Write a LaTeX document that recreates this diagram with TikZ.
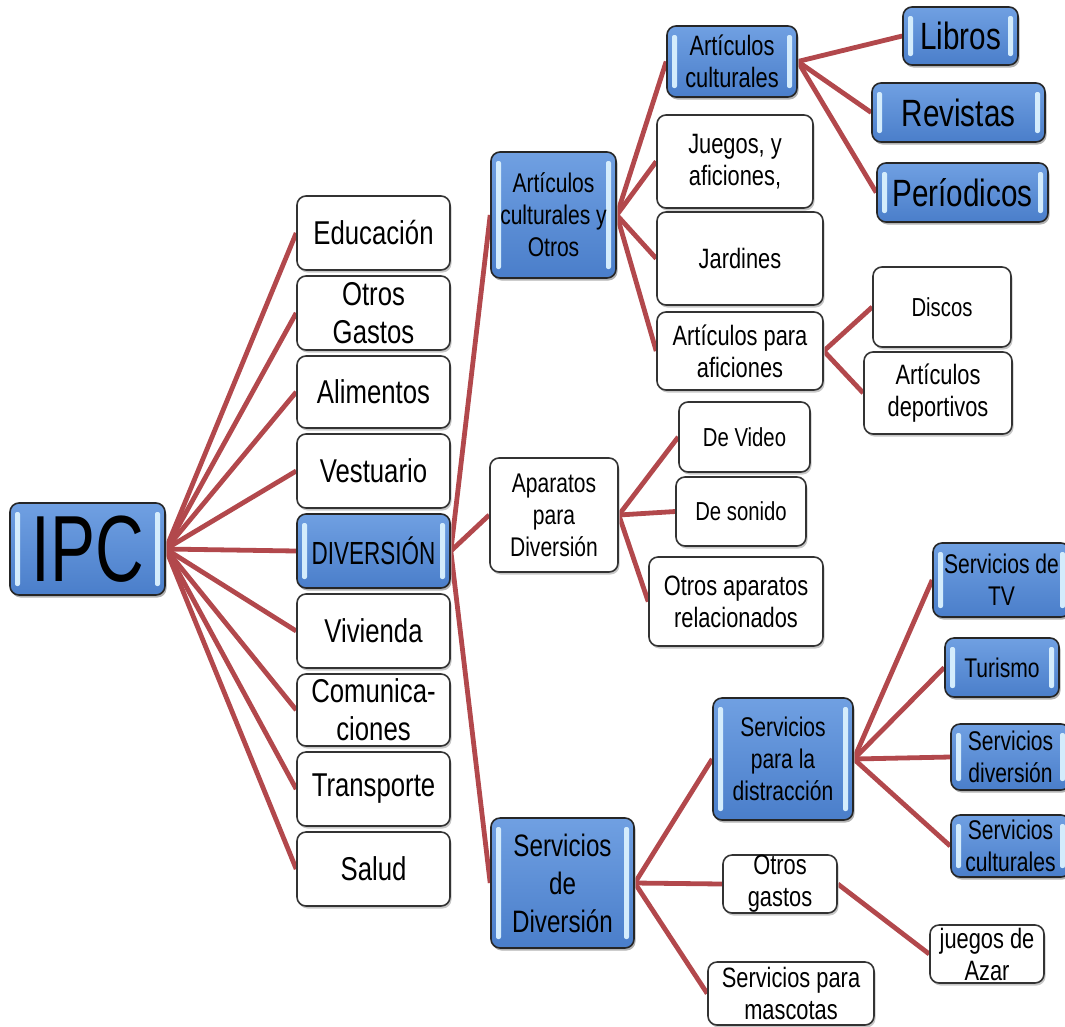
\documentclass[tikz,border=0pt]{standalone}
\usepackage{fontspec}
\setmainfont[FakeStretch=0.78]{Liberation Sans}
\newcommand\fsz[2]{\fontsize{#1}{#2}\selectfont}
\definecolor{link}{RGB}{178,72,76}
\definecolor{btop}{RGB}{112,160,226}
\definecolor{bbot}{RGB}{74,126,202}
\definecolor{hl}{RGB}{212,236,252}
\pgfdeclarelayer{background}
\pgfsetlayers{background,main}
\tikzset{
  box/.style={rectangle, rounded corners=9pt, inner sep=0pt, align=center, line width=1.6pt},
  wbox/.style={box, draw=black!80, fill=white,
    preaction={fill=black!22, transform canvas={shift={(1.5pt,-2.5pt)}}}},
  bbox/.style={box, draw=black!85, top color=btop, bottom color=bbot,
    preaction={fill=black!30, transform canvas={shift={(1.5pt,-2.5pt)}}},
    path picture={
      \fill[hl, rounded corners=2pt] ([xshift=5pt,yshift=-9pt]path picture bounding box.north west) rectangle ([xshift=10pt,yshift=9pt]path picture bounding box.south west);
      \fill[hl, rounded corners=2pt] ([xshift=-10pt,yshift=-9pt]path picture bounding box.north east) rectangle ([xshift=-5pt,yshift=9pt]path picture bounding box.south east);
    }},
  link/.style={draw=link, line width=4.8pt},
  fa/.style={font=\fsz{33}{38}},
  fb/.style={font=\fsz{27}{32}},
  fc/.style={font=\fsz{28}{32}},
  fe/.style={font=\fsz{26}{30}},
  fd/.style={font=\fsz{38}{44}},
}
\begin{document}
\begin{tikzpicture}[x=1pt,y=-1pt]
\useasboundingbox (0,0) rectangle (1065,1026);
\clip (0,0) rectangle (1065,1026);
% root
\node[bbox, minimum width=155pt, minimum height=92pt, font=\fsz{94}{100}] (ipc) at (87.5,549) {\scalebox{0.92}[1]{IPC}};
% column 1
\node[wbox, fa, minimum width=153pt, minimum height=74pt] (edu) at (373.5,233) {Educación};
\node[wbox, fa, minimum width=153pt, minimum height=74pt] (otg) at (373.5,313) {Otros\\Gastos};
\node[wbox, fa, minimum width=153pt, minimum height=72pt] (ali) at (373.5,392) {Alimentos};
\node[wbox, fa, minimum width=153pt, minimum height=74pt] (ves) at (373.5,471) {Vestuario};
\node[bbox, font=\fsz{32}{36}, minimum width=153pt, minimum height=74pt] (div) at (373.5,551) {\scalebox{0.9}[1]{DIVERSIÓN}};
\node[wbox, fa, minimum width=153pt, minimum height=74pt] (viv) at (373.5,631) {Vivienda};
\node[wbox, fa, minimum width=153pt, minimum height=72pt] (com) at (373.5,710) {Comunica-\\ciones};
\node[wbox, fa, minimum width=153pt, minimum height=74pt] (tra) at (373.5,789) {Transporte};
\node[wbox, fa, minimum width=153pt, minimum height=74pt] (sal) at (373.5,869) {Salud};
% column 2
\node[bbox, fb, minimum width=125pt, minimum height=126pt] (acyo) at (553.5,215) {Artículos\\culturales y\\Otros};
\node[wbox, fb, minimum width=128pt, minimum height=114pt] (apa) at (554,515) {Aparatos\\para\\Diversión};
\node[bbox, font=\fsz{31}{38}, minimum width=143pt, minimum height=130pt] (sdiv) at (562.5,883) {Servicios\\de\\Diversión};
% column 3 top
\node[bbox, fc, minimum width=130pt, minimum height=71pt] (acu) at (732,61.5) {Artículos\\culturales};
\node[wbox, fc, minimum width=156pt, minimum height=93pt] (jue) at (735,161.5) {Juegos, y\\aficiones,};
\node[wbox, fc, minimum width=166pt, minimum height=93pt] (jar) at (740,258.5) {Jardines};
\node[wbox, fc, minimum width=166pt, minimum height=78pt] (apaf) at (740,351) {Artículos para\\aficiones};
% column 4 top
\node[bbox, fd, minimum width=115pt, minimum height=58pt] (lib) at (960.5,36) {Libros};
\node[bbox, fd, minimum width=173pt, minimum height=59pt] (rev) at (958.5,112.5) {Revistas};
\node[bbox, fd, minimum width=171pt, minimum height=59pt] (per) at (962.5,192.5) {Períodicos};
\node[wbox, fe, minimum width=138pt, minimum height=80pt] (dis) at (942,307) {Discos};
\node[wbox, fc, minimum width=148pt, minimum height=82pt] (adep) at (938,393) {Artículos\\deportivos};
% aparatos children
\node[wbox, fe, minimum width=131pt, minimum height=70pt] (vid) at (744.5,437) {De Video};
\node[wbox, fe, minimum width=130pt, minimum height=69pt] (son) at (741,511.5) {De sonido};
\node[wbox, fc, minimum width=174pt, minimum height=89pt] (oap) at (736,601.5) {Otros aparatos\\relacionados};
% servicios children
\node[bbox, fb, minimum width=140pt, minimum height=122pt] (sdis) at (783,759) {Servicios\\para la\\distracción};
\node[wbox, fc, minimum width=114pt, minimum height=58pt] (ogas) at (780,884) {Otros\\gastos};
\node[wbox, fc, minimum width=166pt, minimum height=63pt] (masc) at (791,993.5) {Servicios para\\mascotas};
\node[wbox, fc, minimum width=114pt, minimum height=58pt] (azar) at (987,954) {juegos de\\Azar};
\node[bbox, fb, minimum width=137pt, minimum height=74pt] (stv) at (1001.5,580) {Servicios de\\TV};
\node[bbox, fb, minimum width=114pt, minimum height=59pt] (tur) at (1002,667.5) {Turismo};
\node[bbox, fb, minimum width=119pt, minimum height=66pt] (sdv) at (1010.5,757) {Servicios\\diversión};
\node[bbox, fb, minimum width=119pt, minimum height=62pt] (scu) at (1010.5,846) {Servicios\\culturales};
% connectors
\begin{pgfonlayer}{background}
\foreach \n in {edu,otg,ali,ves,div,viv,com,tra,sal}
  \draw[link] (ipc.east) -- (\n.west);
\foreach \n in {acyo,apa,sdiv}
  \draw[link] (div.east) -- (\n.west);
\foreach \n in {acu,jue,jar,apaf}
  \draw[link] (acyo.east) -- (\n.west);
\foreach \n in {lib,rev,per}
  \draw[link] (acu.east) -- (\n.west);
\foreach \n in {dis,adep}
  \draw[link] (apaf.east) -- (\n.west);
\foreach \n in {vid,son,oap}
  \draw[link] (apa.east) -- (\n.west);
\foreach \n in {sdis,ogas,masc}
  \draw[link] (sdiv.east) -- (\n.west);
\foreach \n in {stv,tur,sdv,scu}
  \draw[link] (sdis.east) -- (\n.west);
\draw[link] (ogas.east) -- (azar.west);
\end{pgfonlayer}
\end{tikzpicture}
\end{document}
